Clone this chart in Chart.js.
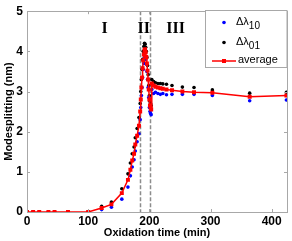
<!DOCTYPE html>
<html><head><meta charset="utf-8">
<script src="https://cdn.jsdelivr.net/npm/chart.js@4"></script>
<style>html,body{margin:0;padding:0;background:#fff;}#wrap{width:292px;height:241px;position:relative;}</style>
</head><body><div id="wrap"><canvas id="c" width="292" height="241"></canvas></div>
<script>
// ---- data ----
const time = [0,10,20,35,45,67,100,122,138,155,165,169,172,175,177,180,183,
  185,186,187,188,189,190,191,192,193,194,195,196,197,198,199,200,201,202,203,204,
  207,210,214,218,222,228,237,254,273,303,364,424];
const dl10 = [0,0,0,0,0,0,0,0.06,0.12,0.32,0.62,0.90,1.12,1.30,1.52,1.75,1.95,
  2.30,2.60,2.90,3.10,3.35,3.55,3.70,3.85,3.88,3.80,3.68,3.50,3.30,3.10,2.85,2.60,2.50,2.45,2.42,3.05,
  2.95,2.98,2.95,2.93,2.95,2.92,2.93,2.93,2.93,2.90,2.77,2.79];
const dl01 = [0,0,0,0,0,0,0,0.14,0.25,0.58,0.95,1.22,1.45,1.62,1.85,2.08,2.35,
  2.70,3.00,3.30,3.55,3.80,4.00,4.12,4.20,4.18,4.10,4.00,3.85,3.65,3.42,3.15,2.90,2.75,2.70,2.65,3.30,
  3.25,3.22,3.20,3.20,3.19,3.18,3.15,3.11,3.10,3.04,2.96,2.98];
const average = [0,0,0,0,0,0,0,0.10,0.19,0.47,0.80,1.05,1.28,1.45,1.68,1.90,2.15,
  2.50,2.80,3.10,3.35,3.58,3.78,3.92,4.03,4.05,3.98,3.86,3.70,3.52,3.30,3.05,2.80,2.65,2.60,2.55,3.20,
  3.15,3.12,3.10,3.08,3.07,3.05,3.03,3.00,2.98,2.97,2.87,2.90];
const seriesNames = ['Δλ10','Δλ01','average'];
const legendMain = ['Δλ','Δλ','average'];
const legendSub = ['10','01',''];
const xTicks = [0,100,200,300,400];
const yTicks = [0,1,2,3,4,5];
const regionNames = ['I','II','III'];
const regionCenters = [127,191,243];
const regionBounds = [185,201];

// ---- chart ----
const axisFont = {family:'"Liberation Sans", Arial, sans-serif', size:12, weight:'bold'};
const titleFont = {family:'"Liberation Sans", Arial, sans-serif', size:11, weight:'bold'};
const pts = arr => time.map((t,i)=>({x:t,y:arr[i]}));

const decor = {
  id:'decor',
  beforeDatasetsDraw(chart){
    const {ctx, chartArea:a, scales:{x}} = chart;
    ctx.save();
    ctx.strokeStyle = '#8c8c8c'; ctx.lineWidth = 1.5; ctx.setLineDash([4,2]);
    regionBounds.forEach(v=>{
      const px = Math.round(x.getPixelForValue(v))+0.5;
      ctx.beginPath(); ctx.moveTo(px,a.top); ctx.lineTo(px,a.bottom); ctx.stroke();
    });
    ctx.restore();
  },
  afterDraw(chart){
    const {ctx, chartArea:a, scales:{x,y}} = chart;
    ctx.save();
    // axes box
    ctx.strokeStyle = '#a8a8a8'; ctx.lineWidth = 1;
    ctx.strokeRect(Math.round(a.left)+0.5, Math.round(a.top)+0.5, Math.round(a.right-a.left), Math.round(a.bottom-a.top));
    // inward ticks
    const tl = 3;
    ctx.beginPath();
    xTicks.forEach(v=>{const px=Math.round(x.getPixelForValue(v))+0.5;
      ctx.moveTo(px,a.bottom); ctx.lineTo(px,a.bottom-tl); ctx.moveTo(px,a.top); ctx.lineTo(px,a.top+tl);});
    yTicks.forEach(v=>{const py=Math.round(y.getPixelForValue(v))+0.5;
      ctx.moveTo(a.left,py); ctx.lineTo(a.left+tl,py); ctx.moveTo(a.right,py); ctx.lineTo(a.right-tl,py);});
    ctx.stroke();
    // region labels
    ctx.fillStyle = '#000'; ctx.font = 'bold 16px "Liberation Serif", "Times New Roman", serif';
    ctx.textAlign = 'center'; ctx.textBaseline = 'middle';
    regionNames.forEach((n,i)=>ctx.fillText(n, x.getPixelForValue(regionCenters[i]), y.getPixelForValue(4.56)));
    // legend box
    const lx = 205.5, ly = 10.5, lw = a.right - 205.5, lh = 57;
    ctx.fillStyle = '#fff'; ctx.fillRect(lx,ly,lw,lh);
    ctx.strokeStyle = '#a8a8a8'; ctx.strokeRect(lx,ly,lw,lh);
    const rows = [22.5, 42.5, 61];
    const cols = ['#0000ff','#000000','#ff0000'];
    ctx.textAlign = 'left'; ctx.textBaseline = 'middle';
    rows.forEach((ry,i)=>{
      if(i===2){
        ctx.strokeStyle = cols[i]; ctx.lineWidth = 1.5;
        ctx.beginPath(); ctx.moveTo(212,ry); ctx.lineTo(236,ry); ctx.stroke();
        ctx.fillStyle = cols[i]; ctx.fillRect(222,ry-2,4,4);
      } else {
        ctx.fillStyle = cols[i]; ctx.beginPath(); ctx.arc(224,ry,1.8,0,Math.PI*2); ctx.fill();
      }
      ctx.fillStyle = '#000';
      ctx.font = '11px "Liberation Sans", Arial, sans-serif';
      const tx = i===2 ? 238 : 236;
      ctx.fillText(legendMain[i], tx, ry-1);
      if(legendSub[i]){
        const w = ctx.measureText(legendMain[i]).width;
        ctx.font = '10px "Liberation Sans", Arial, sans-serif';
        ctx.fillText(legendSub[i], tx+w, ry+4);
      }
    });
    ctx.restore();
  }
};

new Chart(document.getElementById('c'), {
  type:'scatter',
  data:{datasets:[
    {label:seriesNames[0], data:pts(dl10), backgroundColor:'#0000ff', borderColor:'#0000ff', pointRadius:1.8, pointBorderWidth:0, showLine:false, order:1},
    {label:seriesNames[1], data:pts(dl01), backgroundColor:'#000000', borderColor:'#000000', pointRadius:1.8, pointBorderWidth:0, showLine:false, order:2},
    {label:seriesNames[2], data:pts(average), type:'line', backgroundColor:'#ff0000', borderColor:'#ff0000', borderWidth:1.5, pointStyle:'rect', pointRadius:2.8, pointBorderWidth:0, showLine:true, tension:0, fill:false, order:0}
  ]},
  options:{
    responsive:false, animation:false, devicePixelRatio:1,
    layout:{padding:{top:7,right:5,left:0,bottom:0}},
    plugins:{legend:{display:false}, tooltip:{enabled:false}},
    scales:{
      x:{type:'linear', min:0, max:425,
        afterBuildTicks:s=>{s.ticks = xTicks.map(v=>({value:v}));},
        ticks:{font:axisFont, color:'#000', padding:2, maxRotation:0, autoSkip:false},
        grid:{display:false, drawTicks:false}, border:{display:false},
        title:{display:true, text:'Oxidation time (min)', font:titleFont, color:'#000', padding:{top:0,bottom:1}},
        afterFit:s=>{s.height = 29;}},
      y:{type:'linear', min:0, max:5,
        afterBuildTicks:s=>{s.ticks = yTicks.map(v=>({value:v}));},
        ticks:{font:axisFont, color:'#000', padding:4, autoSkip:false},
        grid:{display:false, drawTicks:false}, border:{display:false},
        title:{display:true, text:'Modesplitting (nm)', font:titleFont, color:'#000', padding:{top:2,bottom:0}},
        afterFit:s=>{s.width = 27;}}
    }
  },
  plugins:[decor]
});
</script></body></html>
